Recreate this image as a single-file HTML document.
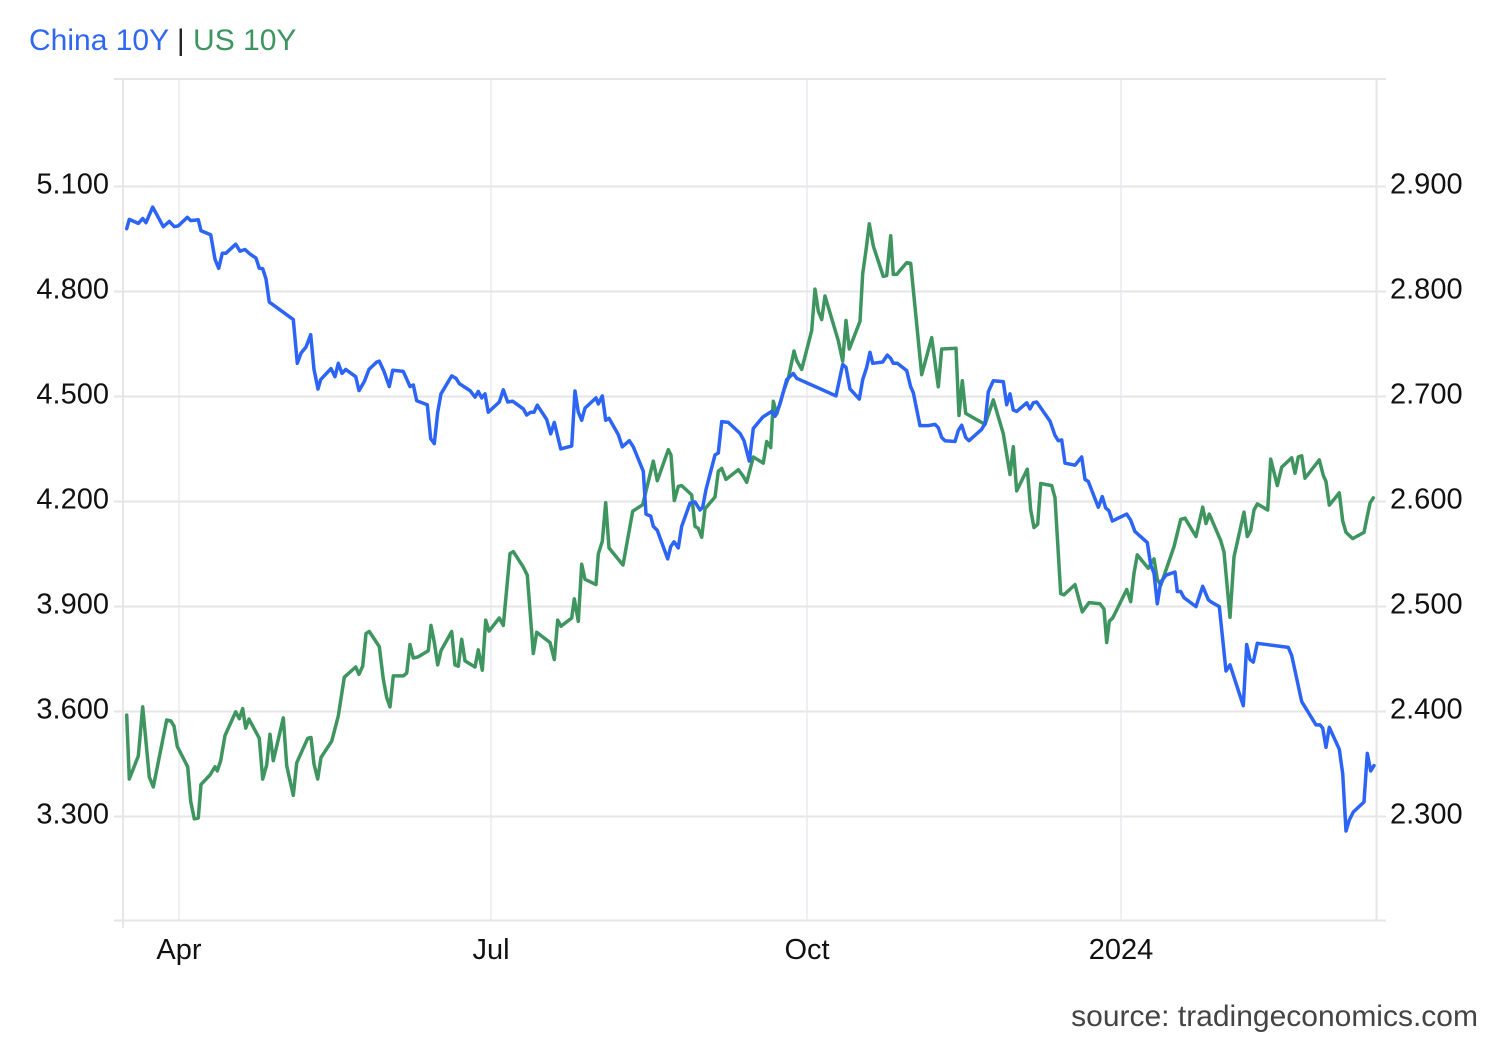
<!DOCTYPE html>
<html>
<head>
<meta charset="utf-8">
<style>
  html, body { margin: 0; padding: 0; background: #ffffff; }
  body { width: 1500px; height: 1040px; overflow: hidden; }
  svg { display: block; }
  text { font-family: "Liberation Sans", Arial, sans-serif; }
</style>
</head>
<body>
<svg width="1500" height="1040" viewBox="0 0 1500 1040" xmlns="http://www.w3.org/2000/svg">
  <rect x="0" y="0" width="1500" height="1040" fill="#ffffff"/>

  <!-- Title -->
  <text x="29" y="50" font-size="30"><tspan fill="#2f66f2">China 10Y</tspan><tspan fill="#222"> | </tspan><tspan fill="#3f955f">US 10Y</tspan></text>

  <!-- vertical month gridlines -->
  <g stroke="#eef0f4" stroke-width="2">
    <line x1="179" y1="79" x2="179" y2="920"/>
    <line x1="491" y1="79" x2="491" y2="920"/>
    <line x1="807" y1="79" x2="807" y2="920"/>
    <line x1="1121" y1="79" x2="1121" y2="920"/>
  </g>

  <!-- horizontal gridlines -->
  <g stroke="#e6e6e6" stroke-width="2">
    <line x1="114" y1="79" x2="1386" y2="79"/>
    <line x1="114" y1="186.5" x2="1386" y2="186.5"/>
    <line x1="114" y1="291.5" x2="1386" y2="291.5"/>
    <line x1="114" y1="396.5" x2="1386" y2="396.5"/>
    <line x1="114" y1="501.5" x2="1386" y2="501.5"/>
    <line x1="114" y1="606.5" x2="1386" y2="606.5"/>
    <line x1="114" y1="711.5" x2="1386" y2="711.5"/>
    <line x1="114" y1="816.5" x2="1386" y2="816.5"/>
    <line x1="114" y1="920.5" x2="1386" y2="920.5"/>
    <line x1="123" y1="79" x2="123" y2="928"/>
    <line x1="1376.5" y1="79" x2="1376.5" y2="920"/>
  </g>

  <!-- left axis labels -->
  <g font-size="29" fill="#111" text-anchor="end">
    <text x="109" y="193.5">5.100</text>
    <text x="109" y="298.5">4.800</text>
    <text x="109" y="403.5">4.500</text>
    <text x="109" y="508.5">4.200</text>
    <text x="109" y="613.5">3.900</text>
    <text x="109" y="718.5">3.600</text>
    <text x="109" y="823.5">3.300</text>
  </g>
  <!-- right axis labels -->
  <g font-size="29" fill="#111" text-anchor="start">
    <text x="1390" y="193.5">2.900</text>
    <text x="1390" y="298.5">2.800</text>
    <text x="1390" y="403.5">2.700</text>
    <text x="1390" y="508.5">2.600</text>
    <text x="1390" y="613.5">2.500</text>
    <text x="1390" y="718.5">2.400</text>
    <text x="1390" y="823.5">2.300</text>
  </g>
  <!-- x labels -->
  <g font-size="29" fill="#111" text-anchor="middle">
    <text x="179" y="959">Apr</text>
    <text x="491" y="959">Jul</text>
    <text x="807" y="959">Oct</text>
    <text x="1121" y="959">2024</text>
  </g>

  <!-- US 10Y (green) -->
  <polyline fill="none" stroke="#3f955f" stroke-width="3.5" stroke-linejoin="round" stroke-linecap="round" points="
126.7,715.1 129.3,779 138.3,756 142.7,706.9 149.3,777 153.3,787 166.7,720 170.7,720.8 174,726.1 177.3,746.5
187.7,766.8 190.7,801.5 194.3,818.8 198.3,818 201,784.4 210,775 215,766.8 217.3,770.9 220.7,760.7 225,735.5
235.7,711.8 239.3,718.7 242.7,708.6 245.7,728.1 249,719.1 259.3,738.3 262.7,779.1 266.7,764.8 270,734.2 273.3,760.7
283.3,717.9 286.7,765.6 293.3,795.4 296.7,762.8 307.7,738.3 311,737.5 314,764 317.7,779.1 321,757.5 331.7,741.2
338.3,715.9 344.3,677.2 355.7,667 359,674.3 362.7,666.1 366,633.5 369.3,631.5 379.3,646.6
383.3,679.2 386.7,697.5 390,706.9 393.3,675.9 403.3,675.9 406.7,673.1 410,644.5 413.3,658 418.3,656.8 428.3,650.7
431,625.4 434.3,642.5 437.7,664.9 441,650.7 451.7,631.5 455,664.9 458.3,666.2 461.7,639.3 465,660.9 475,667
478.3,649.8 482.3,670.2 485.7,620.1 489,631.1 499.3,618 503.3,625.4 510,553.6 513.3,551.6 523.3,567.1 527.3,575.2
533.3,653.5 536.7,632.3 550,642.5 554.3,659.6 557.7,620.1 561,626.2 571.7,618 574.3,598.9 578.3,621.3 581.7,564.2
585,579.3 596,584.6 598.3,554 602.3,541.4 605.7,502.7 609,547.9 619,560.2 623,565
632.7,511.2 642.7,504.7 653.3,461.1 657.3,480.7 668.3,449.7 671,455 674.3,500.6 678.3,486.4 681.7,485.6 691.7,494.9
695,526.3 698.3,528.4 701.7,537.3 705,508.8 715,497 718.3,471.3 721.7,468.4 726,479.4 738.3,469.7 742.7,475.4
746.7,482.3 753.3,457 763.3,463.1 766.7,441.5 770.7,447.6 773.3,401.2 776.7,414.2 784,389.8 788.3,378.3 794,351
796.7,360.4 801.7,369.4 811.7,330.6 815,289.1 818.3,311.1 821.7,319.6 825,296 838.3,340.8 842.7,361.2 846,320.5
849.3,349 860,321.3 862.7,273.6 866,250.3 869.3,223.8 873.3,246
883.3,276.4 886.7,275.6 890.7,235.7 893.3,274.4 896.7,274.4 906.7,262.6 910.7,263.4 921.7,374.7 931.7,337.6 938.3,386.9
941.7,349 956,348.2 959,415.4 962.3,380.8 965.7,413.4 985,424.4 993.3,399.9 1003.3,433.8 1010,474.5 1013.3,446.8
1016.7,490.9 1027.3,469.2 1030.7,510 1034,527.5 1037.7,524.3 1040.7,483.5 1051.7,485.6 1055,497.8 1060.7,593.6 1064,594.8
1075,584.6 1082.3,611.9 1089,602.6 1100,603.8 1104,609.1 1106.7,642.5 1109.3,621.3 1112.7,618 1126.7,589.5 1130.7,601.7
1134,573.2 1137.3,554.9 1148.3,568.3 1154,558.9 1157.3,579.3 1160.7,585.4 1174,546.7 1180.7,519.4 1185,518.2 1196,536.5
1202.7,507.2 1206,523.5 1209.3,514.1 1220.7,540.6 1224,552 1230,617.2 1234,556.9 1244,512.1 1247.3,536.5 1250.7,530.4
1254,510 1257.3,503.9 1267.7,510 1270.7,459.1 1277.3,485.6 1281.7,467.2 1291.7,457.8 1295,473.3 1298.3,457 1301.7,455.8
1305,478.2 1319.3,459.9 1323.3,475.4 1326,481.5 1329.3,505.1 1339.3,492.9 1342.7,521 1346,532.4 1352.7,538.6 1364,532.4
1367.3,516.1 1370,503.1 1373.3,497.8"/>

  <!-- China 10Y (blue) -->
  <polyline fill="none" stroke="#2c64f5" stroke-width="3.5" stroke-linejoin="round" stroke-linecap="round" points="
126.7,228.7 129.3,219.4 138.3,223.4 142.7,218.5 146,222.6 152.7,207.1 163.3,226.7 169.3,221.4 174.3,226.7 178.3,225.9
187.3,217.3 190.7,220.6 198.3,219.8 201,230.8 210.7,234.8 215,259.3 218.7,268.3 222.3,253.2 226,253.2 235.7,244.2
240,251.2 245,249.5 250,254 256,258.1 259.3,268.3 262.7,268.7 266,278.9 269.3,302.1 293.3,319.6 297.3,363.3
301,353.1 306,347 310.7,334.7 314,369.4 318,389 320.7,379.6 331,368.6 335,376.7 338.3,363.3 342,373.4
345.7,369.4 355.7,376.7 359,390.6 364.3,381.6 369,369.4 376.7,362
379.3,361.2 384,371.4 389.3,386.5 392.7,370.2 403.3,371.4 410,386.5 413.3,384.9 416.7,400.8 427.3,404.8 430.7,438.7
434.3,443.6 437.7,412.2 441,393.8 451.7,375.9 456,378.3 459.3,383.6 470,390.6 475,397.1 478.3,391.4 481.7,397.9
485,393.8 488.3,412.2 499.3,402 503.3,389.8 507.7,402 512.7,401.2 523.3,408.9 526.7,415 530.7,412.2 534,412.2
537.3,405.2 546.7,419.5 550.7,433.8 554.3,422.4 560.7,448.9 571.7,446 575,391 578.3,412.2 581.7,420.3 585,408.1
596,397.9 598.3,404 602.3,395.9 605.7,420.3 609,418.3 618.3,434.6 622.3,446.8
629.3,440.7 633.3,446.8 643.3,471.3 646,514.1 650.7,516.1 653.3,526.3 657.3,530.4 667.7,558.9 670.7,546.7 674,541.8
678.3,547.9 681.7,526.3 690,503.1 695,501.9 700,510 702.7,507.2 706,489.6 715,455 718.3,453 721.7,421.6
728.3,422.4 740,433.4 744,440.7 749.3,461.1 753.3,428.5 762.7,417.1 771.7,411.4 775,416.3 780,404 786.7,379.6
793.3,373.5 796.7,378.3 836,395.9 842.7,364.5 846,367.3 850,388.9 859.3,399.1 862.7,379.6 866.7,367.3 870,352.3
872.7,363.3 882.7,362 887.3,355.1 890.7,358.4 893.3,363.3 897.3,363.3 906.7,370.6 910.7,386.9 913.3,392.6 920,425.6
928.3,425.6 935,424.4 938.3,427.7 941.7,437.5 945,440.7 955,441.5 958.3,430.5 961.7,425.2 965.7,437.5 969,440.7
981.7,429.3 985,423.6 988.3,391.8 993.3,380.8 1003.3,381.6 1006.7,404.8 1010,393.8 1013.3,410.1 1016.7,411.4 1026.7,402.8
1030,408.9 1033.3,402.8 1036.7,402 1050,421.1 1055,435.4 1058.3,440.7 1061.7,439.9 1065,463.1 1075,465.2 1081.7,457
1085,479.4 1088.3,481.5 1098.3,507.2 1102.3,496.6 1105.7,508 1109,510.8 1112.3,521 1126.7,514.1 1130.7,520.2
1135,531.6 1147.3,542.6 1150.7,565 1154,573.2 1157.3,603.8 1160.7,582.2 1166,575.2 1175,572 1177.3,591.5 1180.7,591.5
1184,597.7 1196,606.6 1202.7,586.3 1208.3,599.7 1210.7,601.7 1219.3,606.6 1226,671 1230,664.9 1243.3,705.7 1246.7,644.5
1250,659.6 1253.3,662.1 1257.3,643.3 1288.3,647.4 1291.7,655.5 1301.7,701.6 1316,724.9 1320,724.9 1322.7,728.1 1326,747.3
1329.3,727.3 1339.3,749.3 1342.7,773.8 1346,831 1349.3,820 1353.3,812 1364,802 1367.3,753.4 1370.7,770.9 1374,765.6"/>

  <!-- source -->
  <text x="1478" y="1026" font-size="30" fill="#444" text-anchor="end">source: tradingeconomics.com</text>
</svg>
</body>
</html>
